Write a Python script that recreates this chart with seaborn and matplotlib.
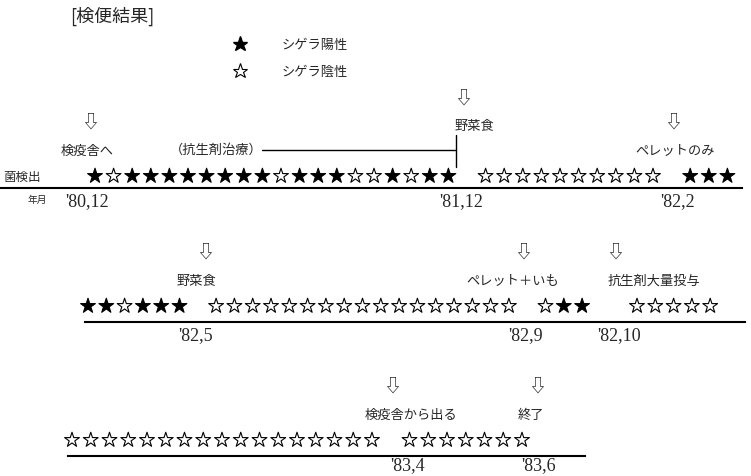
import numpy as np
import pandas as pd
import matplotlib
matplotlib.use('Agg')
import matplotlib.pyplot as plt
from matplotlib.lines import Line2D
import seaborn as sns

# ----------------------------------------------------------------------------
# 検便結果  (★ = シゲラ陽性, ☆ = シゲラ陰性, space = no sample)
# ----------------------------------------------------------------------------
row1_results = '★☆★★★★★★★★☆★★★☆☆★☆★★ ☆☆☆☆☆☆☆☆☆☆ ★★★'
row2_results = '★★☆★★★ ☆☆☆☆☆☆☆☆☆☆☆☆☆☆☆☆☆ ☆★★  ☆☆☆☆☆'
row3_results = '☆☆☆☆☆☆☆☆☆☆☆☆☆☆☆☆☆ ☆☆☆☆☆☆☆'

# dates (年月) and where they sit, in sample slots
row1_dates = ["'80,12", "'81,12", "'82,2"]
row1_date_pos = [-0.4, 19.7, 31.3]
row2_dates = ["'82,5", "'82,9", "'82,10"]
row2_date_pos = [5.9, 23.9, 29.0]
row3_dates = ["'83,4", "'83,6"]
row3_date_pos = [17.9, 24.9]

# events (arrow + label)
row1_events = ['検疫舎へ', '野菜食', 'ペレットのみ']
row1_arrow_pos = [-0.27, 19.8, 31.1]
row1_label_pos = [-0.4, 20.4, 31.2]
row1_levels = [0, 1, 0]
row2_events = ['野菜食', 'ペレット＋いも', '抗生剤大量投与']
row2_arrow_pos = [6.4, 23.8, 28.8]
row2_label_pos = [5.9, 23.2, 30.9]
row2_levels = [0, 0, 0]
row3_events = ['検疫舎から出る', '終了']
row3_arrow_pos = [17.1, 24.8]
row3_label_pos = [18.1, 24.5]
row3_levels = [0, 0]

# antibiotic treatment period (row 1)
treat_label = '（抗生剤治療）'
treat_start, treat_end = 9.0, 19.4

sns.set_style('white')
plt.rcParams['font.family'] = ['Noto Sans CJK JP', 'DejaVu Sans']

W, H = 751, 476
fig = plt.figure(figsize=(W / 100, H / 100), dpi=100)


def frac(x, y):
    return x / W, 1 - y / H


rows = [
    dict(results=row1_results, dates=row1_dates, date_pos=row1_date_pos,
         events=row1_events, arrows=row1_arrow_pos, labels=row1_label_pos, levels=row1_levels,
         left=0, right=742, line_y=188, x0=95, step=18.6, gap=12, pad=3.5),
    dict(results=row2_results, dates=row2_dates, date_pos=row2_date_pos,
         events=row2_events, arrows=row2_arrow_pos, labels=row2_label_pos, levels=row2_levels,
         left=85, right=745, line_y=322, x0=88, step=18.3, gap=16, pad=3.5),
    dict(results=row3_results, dates=row3_dates, date_pos=row3_date_pos,
         events=row3_events, arrows=row3_arrow_pos, labels=row3_label_pos, levels=row3_levels,
         left=68, right=585, line_y=456, x0=72, step=18.75, gap=16, pad=0.5),
]

AX_H = 100
axes = []
for r in rows:
    ax = fig.add_axes([r['left'] / W, 1 - r['line_y'] / H,
                       (r['right'] - r['left']) / W, AX_H / H])
    ax.patch.set_alpha(0)

    df = pd.DataFrame({'slot': [i for i, c in enumerate(r['results']) if c != ' '],
                       'result': ['陽性' if c == '★' else '陰性' for c in r['results'] if c != ' ']})
    df['y'] = 0
    sns.scatterplot(data=df, x='slot', y='y', hue='result',
                    palette={'陽性': 'black', '陰性': 'white'},
                    marker='*', s=125, edgecolor='black', linewidth=0.8,
                    legend=False, ax=ax, clip_on=False, zorder=3)

    ax.set_xlim((r['left'] - r['x0']) / r['step'], (r['right'] - r['x0']) / r['step'])
    ax.set_ylim(-r['gap'], AX_H - r['gap'])
    ax.set_xticks(r['date_pos'])
    ax.set_xticklabels(r['dates'], fontfamily='Liberation Serif', fontsize=13)
    ax.tick_params(axis='x', length=0, pad=r['pad'])
    ax.set_yticks([])
    ax.set_xlabel('')
    ax.set_ylabel('')
    for s in ['top', 'left', 'right']:
        ax.spines[s].set_visible(False)
    ax.spines['bottom'].set_linewidth(1.5)
    ax.spines['bottom'].set_color('black')

    for ev, xa, xl, lv in zip(r['events'], r['arrows'], r['labels'], r['levels']):
        base = 25 + lv * 24
        ax.text(xl, base, ev, ha='center', va='center', fontsize=9.5, clip_on=False)
        ax.text(xa, base + 28, '⇩', ha='center', va='center', fontsize=13, clip_on=False)
    axes.append(ax)

# antibiotic treatment bracket
ax1 = axes[0]
ax1.text(treat_start, 26, treat_label, ha='right', va='center', fontsize=9.5)
ax1.plot([treat_start, treat_end], [26, 26], color='black', lw=1, clip_on=False)
ax1.plot([treat_end, treat_end], [9, 41], color='black', lw=1, clip_on=False)

# row labels
fig.text(*frac(3, 177), '菌検出', fontsize=9, ha='left', va='center')
fig.text(*frac(28, 200), '年月', fontsize=7, ha='left', va='center')

# title
fig.text(*frac(70, 16), '[検便結果]', fontsize=13, ha='left', va='center')

# legend
handles = [Line2D([0], [0], marker='*', ls='', ms=11.2, mfc='black', mec='black'),
           Line2D([0], [0], marker='*', ls='', ms=11.2, mfc='white', mec='black', mew=0.8)]
fig.legend(handles, ['シゲラ陽性', 'シゲラ陰性'], loc='upper left',
           bbox_to_anchor=frac(233, 39), frameon=False, borderpad=0, borderaxespad=0,
           handlelength=1.0, handletextpad=2.7, labelspacing=1.05, fontsize=9.5)

fig.savefig('out.png', dpi=100)
